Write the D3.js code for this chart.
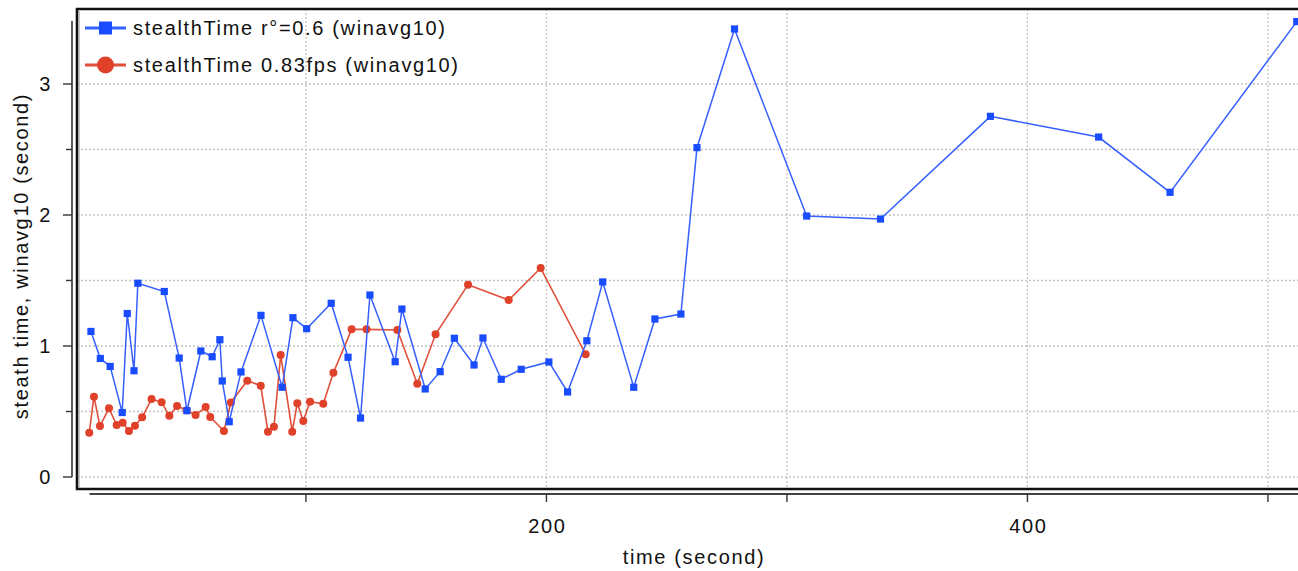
<!DOCTYPE html>
<html>
<head>
<meta charset="utf-8">
<script src="https://cdn.jsdelivr.net/npm/d3@7"></script>
<style>
  html, body { margin: 0; padding: 0; background: #fff; }
  svg { display: block; }
  text { font-family: "Liberation Sans", Arial, Helvetica, sans-serif; font-size: 20px; letter-spacing: 1.65px; fill: #111; }
</style>
</head>
<body>
<script>
// ---- data ----
const blueName = "stealthTime r°=0.6 (winavg10)";
const redName = "stealthTime 0.83fps (winavg10)";
const blueX = [10.6, 14.5, 18.6, 23.6, 25.7, 28.5, 30.1, 41.1, 47.3, 50.5, 56.3, 61.0, 64.2, 65.2, 68.1, 73.0, 81.3, 90.1, 94.6, 100.3, 110.5, 117.5, 122.7, 126.6, 137.1, 139.9, 149.6, 155.8, 161.7, 169.9, 173.6, 181.2, 189.5, 201.0, 208.8, 216.8, 223.4, 236.3, 245.1, 255.9, 262.6, 278.2, 308.2, 338.9, 384.6, 429.6, 459.3, 512.0];
const blueY = [1.111, 0.905, 0.844, 0.492, 1.248, 0.811, 1.479, 1.416, 0.908, 0.506, 0.962, 0.918, 1.048, 0.733, 0.422, 0.802, 1.234, 0.685, 1.216, 1.132, 1.326, 0.914, 0.450, 1.389, 0.880, 1.282, 0.672, 0.804, 1.059, 0.855, 1.061, 0.746, 0.822, 0.878, 0.649, 1.040, 1.489, 0.685, 1.206, 1.244, 2.514, 3.420, 1.992, 1.969, 2.753, 2.595, 2.173, 3.476];
const redX = [9.9, 11.85, 14.35, 18.1, 21.3, 23.8, 26.4, 28.9, 31.9, 35.8, 40.0, 43.2, 46.4, 50.4, 54.1, 58.3, 60.2, 65.9, 68.8, 75.6, 81.2, 84.2, 86.7, 89.5, 94.3, 96.4, 98.9, 101.7, 107.2, 111.4, 119.0, 125.2, 138.0, 146.3, 153.9, 167.4, 184.3, 197.6, 216.3];
const redY = [0.338, 0.613, 0.389, 0.524, 0.397, 0.415, 0.351, 0.392, 0.456, 0.595, 0.570, 0.467, 0.542, 0.509, 0.473, 0.534, 0.458, 0.351, 0.569, 0.735, 0.697, 0.346, 0.384, 0.931, 0.346, 0.563, 0.427, 0.575, 0.559, 0.796, 1.127, 1.127, 1.122, 0.712, 1.089, 1.468, 1.351, 1.595, 0.937];
const xTicks = [100, 200, 300, 400, 500];
const xTickLabels = ["", "200", "", "400", ""];
const yMajorTicks = [0, 1, 2, 3];
const yMinorTicks = [0.5, 1.5, 2.5];
const xTitle = "time (second)";
const yTitle = "steath time, winavg10 (second)";

// ---- layout ----
const W = 1298, H = 571;
const BLUE = "#1a4cff", BLUE_LINE = "#3560ff";
const RED = "#e0412a", RED_LINE = "#e0503a";

const svg = d3.select("body").append("svg").attr("width", W).attr("height", H);

const x = d3.scaleLinear().domain([10, 513]).range([89.5, 1299.2]);
const y = d3.scaleLinear().domain([0, 3.48]).range([477, 21.1]);

const frame = { left: 77, top: 9, right: 1310, bottom: 489 };

// gridlines
const grid = svg.append("g").attr("stroke", "#c4c4c4").attr("stroke-width", 1.3).attr("stroke-dasharray", "2,2");
grid.selectAll("line.h").data(yMajorTicks.concat(yMinorTicks)).join("line")
  .attr("x1", frame.left).attr("x2", W)
  .attr("y1", d => y(d)).attr("y2", d => y(d));
grid.selectAll("line.v").data(xTicks).join("line")
  .attr("y1", frame.top).attr("y2", frame.bottom)
  .attr("x1", d => x(d)).attr("x2", d => x(d));

// frame
svg.append("path")
  .attr("d", `M${frame.right},${frame.top}H${frame.left}V${frame.bottom}H${frame.right}`)
  .attr("fill", "none").attr("stroke", "#111").attr("stroke-width", 2.6);
svg.append("path")
  .attr("d", `M${frame.left + 2.2},${frame.top + 2}V${frame.bottom - 1.6}`)
  .attr("fill", "none").attr("stroke", "#999").attr("stroke-width", 0.8);

// y axis (separate, offset to left)
const yAxisX = 72;
const yAx = svg.append("g");
yAx.append("line").attr("x1", yAxisX).attr("x2", yAxisX).attr("y1", y(3.48)).attr("y2", y(0))
  .attr("stroke", "#333").attr("stroke-width", 1.6);
yAx.selectAll("line.maj").data(yMajorTicks).join("line")
  .attr("x1", yAxisX - 9).attr("x2", yAxisX).attr("y1", d => y(d)).attr("y2", d => y(d))
  .attr("stroke", "#333").attr("stroke-width", 1.4);
yAx.selectAll("line.min").data(yMinorTicks).join("line")
  .attr("x1", yAxisX - 6).attr("x2", yAxisX).attr("y1", d => y(d)).attr("y2", d => y(d))
  .attr("stroke", "#333").attr("stroke-width", 1.4);
yAx.selectAll("text").data(yMajorTicks).join("text")
  .attr("x", 52).attr("y", d => y(d)).attr("dy", "0.36em")
  .attr("text-anchor", "end").text(d => d);

// x axis (separate, offset below)
const xAxisY = 494;
const xAx = svg.append("g");
xAx.append("line").attr("x1", x(10)).attr("x2", W).attr("y1", xAxisY).attr("y2", xAxisY)
  .attr("stroke", "#444").attr("stroke-width", 2);
xAx.selectAll("line.t").data(xTicks).join("line")
  .attr("x1", d => x(d)).attr("x2", d => x(d)).attr("y1", xAxisY).attr("y2", xAxisY + 8)
  .attr("stroke", "#333").attr("stroke-width", 1.4);
xAx.selectAll("text").data(xTicks).join("text")
  .attr("x", d => x(d) + 1).attr("y", 533)
  .attr("text-anchor", "middle").text((d, i) => xTickLabels[i]);

// titles
svg.append("text").attr("x", 694).attr("y", 564).attr("text-anchor", "middle").text(xTitle);
svg.append("text").attr("transform", "translate(28,256) rotate(-90)")
  .attr("text-anchor", "middle").text(yTitle);

// series
const redData = redX.map((v, i) => [v, redY[i]]);
const blueData = blueX.map((v, i) => [v, blueY[i]]);
const line = d3.line().x(d => x(d[0])).y(d => y(d[1]));

const plot = svg.append("g");
plot.append("path").datum(redData).attr("d", line)
  .attr("fill", "none").attr("stroke", RED_LINE).attr("stroke-width", 1.6);
plot.selectAll("circle.r").data(redData).join("circle")
  .attr("cx", d => x(d[0])).attr("cy", d => y(d[1])).attr("r", 4).attr("fill", RED);

plot.append("path").datum(blueData).attr("d", line)
  .attr("fill", "none").attr("stroke", BLUE_LINE).attr("stroke-width", 1.5);
plot.selectAll("rect.b").data(blueData).join("rect")
  .attr("x", d => x(d[0]) - 3.6).attr("y", d => y(d[1]) - 3.6)
  .attr("width", 7.2).attr("height", 7.2).attr("fill", BLUE);

// legend
const leg = svg.append("g");
const legRows = [
  { name: blueName, color: BLUE, line: BLUE_LINE, shape: "square", cy: 28 },
  { name: redName, color: RED, line: RED_LINE, shape: "circle", cy: 65 }
];
legRows.forEach(r => {
  leg.append("line").attr("x1", 85).attr("x2", 126).attr("y1", r.cy).attr("y2", r.cy)
    .attr("stroke", r.line).attr("stroke-width", 3);
  if (r.shape === "square") {
    leg.append("rect").attr("x", 99).attr("y", r.cy - 6.5).attr("width", 13).attr("height", 13).attr("fill", r.color);
  } else {
    leg.append("circle").attr("cx", 105.5).attr("cy", r.cy).attr("r", 8.5).attr("fill", r.color);
  }
  leg.append("text").attr("x", 133).attr("y", r.cy).attr("dy", "0.36em").text(r.name);
});
</script>
</body>
</html>
